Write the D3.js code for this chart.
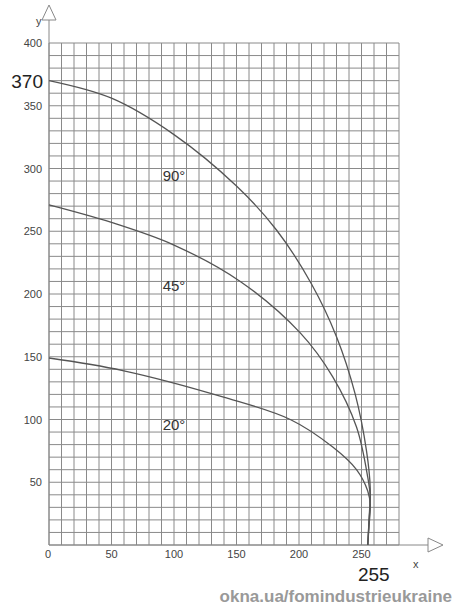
<!DOCTYPE html><html><head><meta charset="utf-8"><script src="https://cdn.jsdelivr.net/npm/d3@7"></script>
<style>body{margin:0;background:#fff}</style></head><body><svg id="c" width="462" height="614"></svg>
<script>
const xTicks=[0,50,100,150,200,250];
const yTicks=[50,100,150,200,250,300,350,400];
const s90=[[0,370],[50,356],[100,327],[150,286],[182,251],[210,208],[230,166],[245,120],[254,75],[257,45],[256,20],[255,0]];
const s45=[[0,271],[50,257],[100,239],[153,210],[201,169],[227,134],[246,94],[255,54],[257,38],[256,18],[255,0]];
const s20=[[0,149],[59,139],[139,118],[193,100],[227,78],[246,60],[255,43],[257,32],[256,15],[255,0]];
const labels=[["90°",100,290],["45°",100,202],["20°",100,92]];
const svg=d3.select("#c");
const x=d3.scaleLinear().domain([0,280]).range([49,399]);
const y=d3.scaleLinear().domain([0,400]).range([545,43]);
const g=svg.append("g");
d3.range(0,281,10).forEach(v=>g.append("line").attr("x1",x(v)).attr("x2",x(v)).attr("y1",y(0)).attr("y2",y(400)).attr("stroke","#8a8a8a").attr("stroke-width",1));
d3.range(0,401,10).forEach(v=>g.append("line").attr("y1",y(v)).attr("y2",y(v)).attr("x1",x(0)).attr("x2",x(280)).attr("stroke","#8a8a8a").attr("stroke-width",1));
svg.append("line").attr("x1",x(0)).attr("x2",430).attr("y1",y(0)).attr("y2",y(0)).attr("stroke","#888");
svg.append("line").attr("x1",x(0)).attr("x2",x(0)).attr("y1",y(0)).attr("y2",20).attr("stroke","#888");
svg.append("path").attr("d",`M${x(0)-7},20L${x(0)+7},20L${x(0)},5Z`).attr("fill","#fff").attr("stroke","#888");
svg.append("path").attr("d",`M428,${y(0)-7}L428,${y(0)+7}L443,${y(0)}Z`).attr("fill","#fff").attr("stroke","#888");
const F="Liberation Sans, Arial";
yTicks.forEach(v=>svg.append("text").attr("x",42).attr("y",y(v)+4).attr("text-anchor","end").attr("font-size",11).attr("font-family",F).attr("fill","#444").text(v));
xTicks.forEach(v=>svg.append("text").attr("x",x(v)+(v?0:-1)).attr("y",558).attr("text-anchor","middle").attr("font-size",11).attr("font-family",F).attr("fill","#444").text(v));
svg.append("text").attr("x",36).attr("y",25).attr("font-size",11).attr("font-family",F).attr("fill","#444").text("y");
svg.append("text").attr("x",413).attr("y",568).attr("font-size",11).attr("font-family",F).attr("fill","#444").text("x");
svg.append("text").attr("x",43).attr("y",y(370)+7).attr("text-anchor","end").attr("font-size",19).attr("font-family",F).attr("fill","#222").text("370");
svg.append("text").attr("x",x(255)+6).attr("y",581).attr("text-anchor","middle").attr("font-size",19).attr("font-family",F).attr("fill","#222").text("255");
const line=d3.line().x(d=>x(d[0])).y(d=>y(d[1])).curve(d3.curveCatmullRom.alpha(0.5));
[s90,s45,s20].forEach(s=>svg.append("path").attr("d",line(s)).attr("fill","none").attr("stroke","#555").attr("stroke-width",1.3));
labels.forEach(l=>svg.append("text").attr("x",x(l[1])).attr("y",y(l[2])).attr("text-anchor","middle").attr("font-size",15).attr("font-family",F).attr("fill","#333").text(l[0]));
svg.append("text").attr("x",452).attr("y",602).attr("text-anchor","end").attr("font-size",17).attr("font-weight","bold").attr("font-family",F).attr("fill","#999").text("okna.ua/fomindustrieukraine");
</script></body></html>
